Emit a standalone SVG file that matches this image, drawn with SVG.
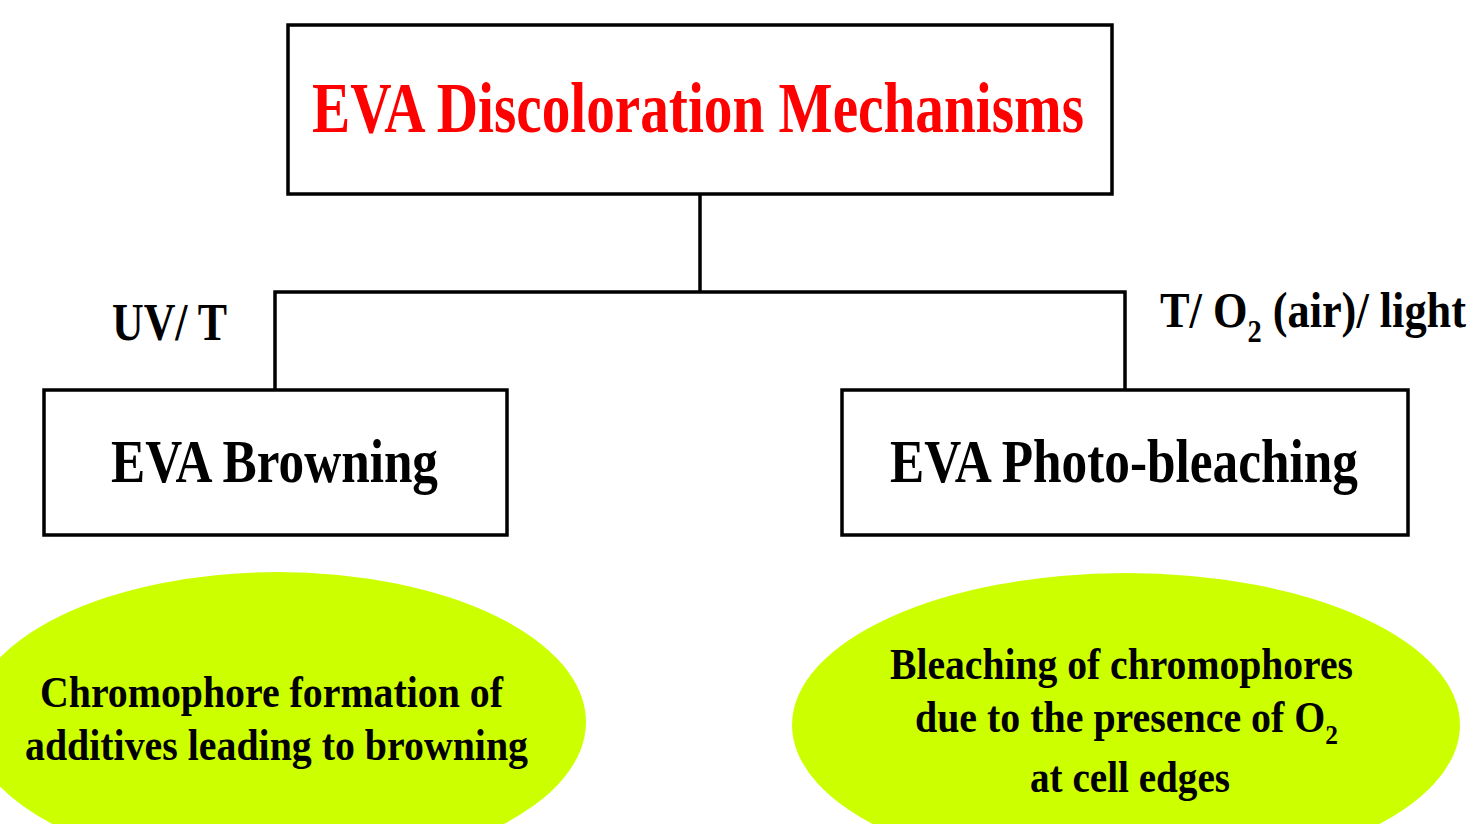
<svg xmlns="http://www.w3.org/2000/svg" width="1475" height="824" viewBox="0 0 1475 824">
<style>
.box{fill:#fff;stroke:#000;stroke-width:3.5}
.ell{fill:#ccff00;stroke:none}
.t{font-family:"Liberation Serif","Times New Roman",serif;font-weight:bold;fill:#000}
.con{fill:none;stroke:#000;stroke-width:3.5}
</style>
<rect width="1475" height="824" fill="#fff"/>
<g id="connectors">
<path class="con" d="M700 194 V292"/>
<path class="con" d="M275 390 V292 H1125 V390"/>
</g>
<g id="label-uv">
<text class="t" x="112" y="340" font-size="52" textLength="115" lengthAdjust="spacingAndGlyphs">UV/ T</text>
</g>
<g id="label-air">
<text class="t" x="1160" y="327" font-size="50" textLength="306" lengthAdjust="spacingAndGlyphs">T/ O<tspan font-size="32" dy="15">2</tspan><tspan dy="-15"> (air)/ light</tspan></text>
</g>
<g id="title">
<rect class="box" x="288" y="25" width="824" height="169"/>
<text class="t" x="312" y="132" font-size="72" style="fill:#ff0000" textLength="772" lengthAdjust="spacingAndGlyphs">EVA Discoloration Mechanisms</text>
</g>
<g id="browning">
<rect class="box" x="44" y="390" width="463" height="145"/>
<text class="t" x="111" y="482" font-size="62" textLength="327" lengthAdjust="spacingAndGlyphs">EVA Browning</text>
</g>
<g id="bleaching">
<rect class="box" x="842" y="390" width="566" height="145"/>
<text class="t" x="890" y="482" font-size="62" textLength="468" lengthAdjust="spacingAndGlyphs">EVA Photo-bleaching</text>
</g>
<g id="browning-desc">
<ellipse class="ell" cx="278" cy="722" rx="308" ry="150"/>
<text class="t" x="40" y="707" font-size="44" textLength="463" lengthAdjust="spacingAndGlyphs">Chromophore formation of</text>
<text class="t" x="25" y="760" font-size="44" textLength="503" lengthAdjust="spacingAndGlyphs">additives leading to browning</text>
</g>
<g id="bleaching-desc">
<ellipse class="ell" cx="1126" cy="725" rx="334" ry="152"/>
<text class="t" x="890" y="679" font-size="44" textLength="463" lengthAdjust="spacingAndGlyphs">Bleaching of chromophores</text>
<text class="t" x="915" y="732" font-size="44" textLength="423" lengthAdjust="spacingAndGlyphs">due to the presence of O<tspan font-size="28" dy="12">2</tspan></text>
<text class="t" x="1030" y="792" font-size="44" textLength="200" lengthAdjust="spacingAndGlyphs">at cell edges</text>
</g>
</svg>
